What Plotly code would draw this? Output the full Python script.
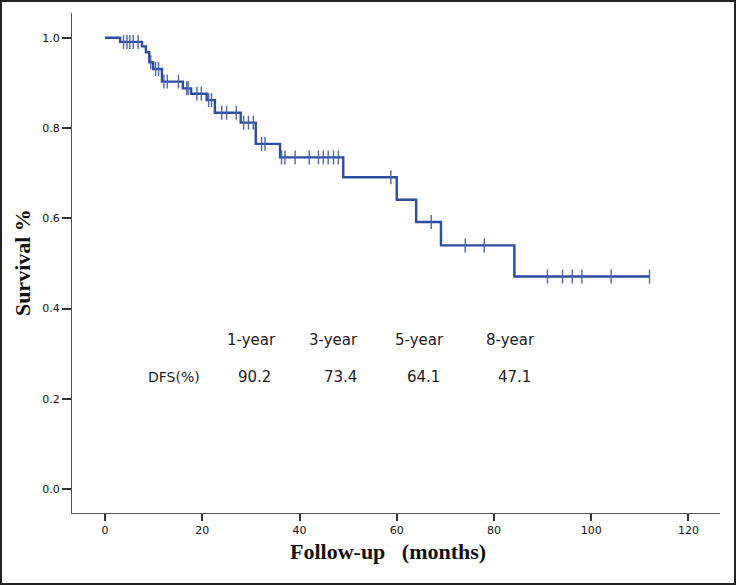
import numpy as np
import plotly.graph_objects as go

# Kaplan-Meier step data (months, survival proportion)
event_times = [0, 3.1, 7.6, 8.4, 9.1, 9.9, 11.7, 16.0, 17.7, 20.9, 22.6, 27.9, 31.0, 36.0, 49.0, 60.0, 64.0, 69.1, 84.2]
event_surv = [1.0, 0.991, 0.981, 0.968, 0.946, 0.931, 0.903, 0.888, 0.876, 0.862, 0.834, 0.812, 0.765, 0.735, 0.691, 0.641, 0.592, 0.540, 0.471]
last_followup = 112.0

censor_times = [3.8, 4.5, 5.1, 5.8, 6.8, 9.4, 10.4, 11.0, 12.1, 12.8, 15.1, 16.8, 17.1,
                18.9, 19.8, 21.3, 21.9, 24.0, 25.0, 27.0, 28.5, 29.5, 30.5, 32.2, 32.9,
                36.3, 37.0, 39.1, 42.0, 43.9, 44.9, 45.9, 47.0, 48.0, 58.8, 67.1, 74.1, 78.0,
                91.0, 94.1, 96.1, 98.1, 104.1, 112.0]

milestones = ["1-year", "3-year", "5-year", "8-year"]
dfs_label = "DFS(%)"
dfs_values = ["90.2", "73.4", "64.1", "47.1"]

x_ticks = [0, 20, 40, 60, 80, 100, 120]
y_ticks = [0.0, 0.2, 0.4, 0.6, 0.8, 1.0]

color = "#2E4C9E"

idx = np.searchsorted(event_times, censor_times, side="right") - 1
censor_surv = [event_surv[i] for i in idx]

fig = go.Figure()
fig.add_trace(go.Scatter(
    x=event_times + [last_followup], y=event_surv + [event_surv[-1]],
    mode="lines", line=dict(color=color, width=2.4, shape="hv"),
    hoverinfo="skip", showlegend=False))
fig.add_trace(go.Scatter(
    x=censor_times, y=censor_surv, mode="markers",
    marker=dict(symbol="line-ns-open", size=10, color="#4A66B0",
                line=dict(color="#4A66B0", width=1.4)),
    showlegend=False))

# text block positions (data coords)
year_x = [30.2, 46.9, 64.6, 83.5]
dfs_x = [30.7, 48.4, 65.6, 84.2]
for lab, xp in zip(milestones, year_x):
    fig.add_annotation(x=xp, y=0.330, text=lab, showarrow=False,
                       font=dict(family="DejaVu Sans", size=15, color="#222"))
fig.add_annotation(x=14.2, y=0.248, text=dfs_label, showarrow=False,
                   font=dict(family="DejaVu Sans", size=14, color="#222"))
for lab, xp in zip(dfs_values, dfs_x):
    fig.add_annotation(x=xp, y=0.248, text=lab, showarrow=False,
                       font=dict(family="DejaVu Sans", size=15, color="#222"))

fig.add_annotation(xref="paper", yref="paper", x=0.488, y=-0.076, xanchor="center", yanchor="middle",
                   text="<b>Follow-up\u00a0\u00a0\u00a0(months)</b>", showarrow=False,
                   font=dict(family="Liberation Serif", size=22, color="#111"))
fig.add_annotation(xref="paper", yref="paper", x=-0.077, y=0.5, xanchor="center", yanchor="middle",
                   textangle=-90, text="<b>Survival %</b>", showarrow=False,
                   font=dict(family="Liberation Serif", size=22, color="#111"))

# outer frame
fig.add_shape(type="rect", xref="paper", yref="paper",
              x0=-71/648, x1=1 + 15/648, y0=-71/500, y1=1 + 12/500,
              line=dict(color="#222", width=2), layer="above")

fig.update_xaxes(range=[-6.8, 126.5], tickvals=x_ticks, showgrid=False, zeroline=False,
                 showline=True, linecolor="#555", linewidth=1.3,
                 ticks="outside", ticklen=7, tickwidth=1.5, tickcolor="#333",
                 tickfont=dict(family="DejaVu Sans", size=11, color="#111"))
fig.update_yaxes(range=[-0.053, 1.055], tickvals=y_ticks, tickformat=".1f", showgrid=False,
                 zeroline=False, showline=True, linecolor="#555", linewidth=1.3,
                 ticks="outside", ticklen=9, tickwidth=1.5, tickcolor="#333",
                 tickfont=dict(family="DejaVu Sans", size=11, color="#111"))

fig.update_layout(width=736, height=585, margin=dict(l=72, r=16, t=13, b=72),
                  plot_bgcolor="white", paper_bgcolor="white")

fig.write_html("out.html", config={"displayModeBar": False},
               post_script="document.body.style.margin='0';document.body.style.overflow='hidden';")
